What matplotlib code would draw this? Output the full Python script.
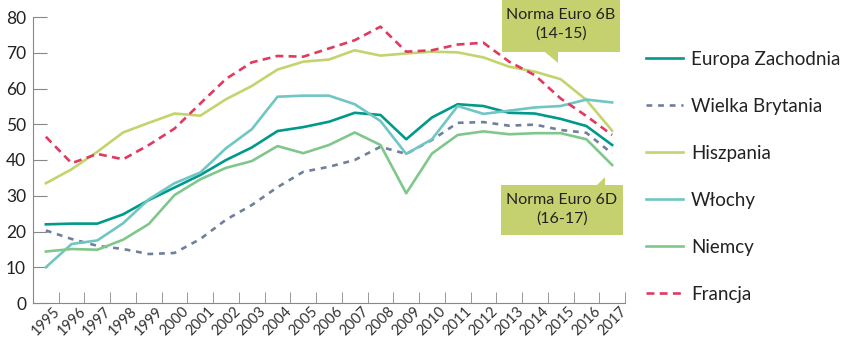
import numpy as np
import matplotlib
matplotlib.use("Agg")
import matplotlib.pyplot as plt
from matplotlib.patches import Polygon

plt.rcParams['font.family'] = ['Lato', 'DejaVu Sans']

years = [str(y) for y in range(1995, 2018)]

europa_zachodnia = [22.0, 22.2, 22.2, 24.8, 28.8, 32.3, 35.8, 40.0, 43.5, 48.1, 49.2,
                    50.7, 53.2, 52.6, 45.8, 51.9, 55.6, 55.1, 53.2, 53.0, 51.5, 49.5, 44.2]
wielka_brytania = [20.3, 17.9, 16.0, 15.1, 13.7, 14.0, 17.9, 23.3, 27.4, 32.4, 36.7,
                   38.1, 40.0, 43.7, 41.7, 45.6, 50.4, 50.6, 49.6, 49.9, 48.4, 47.6, 41.8]
hiszpania = [33.5, 37.4, 42.3, 47.7, 50.4, 53.0, 52.4, 57.0, 60.7, 65.3, 67.5,
             68.1, 70.7, 69.2, 69.8, 70.3, 70.1, 68.7, 66.1, 64.7, 62.6, 56.8, 48.2]
wlochy = [10.0, 16.5, 17.5, 22.3, 29.0, 33.5, 36.5, 43.3, 48.6, 57.7, 58.0,
          58.0, 55.6, 50.9, 41.7, 45.8, 55.1, 52.9, 53.8, 54.7, 55.1, 56.9, 56.1]
niemcy = [14.4, 15.1, 14.9, 17.7, 22.1, 30.2, 34.6, 37.8, 39.7, 43.9, 41.9,
          44.2, 47.7, 44.2, 30.7, 41.8, 47.0, 48.0, 47.2, 47.5, 47.5, 45.8, 38.6]
francja = [46.5, 39.1, 41.7, 40.2, 44.2, 48.8, 55.8, 62.7, 67.3, 69.1, 68.9,
           71.2, 73.5, 77.3, 70.3, 70.7, 72.3, 72.8, 67.5, 63.7, 57.2, 52.3, 47.0]

series = [
    ("Europa Zachodnia", europa_zachodnia, '#00998a', '-'),
    ("Wielka Brytania", wielka_brytania, '#6f7f9c', (0, (2.2, 2.2))),
    ("Hiszpania", hiszpania, '#c4d46c', '-'),
    ("Włochy", wlochy, '#70c6c2', '-'),
    ("Niemcy", niemcy, '#80c78c', '-'),
    ("Francja", francja, '#e03a60', (0, (3, 2))),
]

W, H = 846, 344
fig = plt.figure(figsize=(W / 100, H / 100), dpi=100)
ax = fig.add_axes([33 / W, 1 - 303 / H, (625 - 33) / W, (303 - 17) / H])

x = np.arange(len(years))
for name, vals, color, ls in series:
    ax.plot(x, vals, color=color, linestyle=ls, linewidth=1.9, label=name)

ax.set_xlim(-0.5, len(years) - 0.5)
ax.set_ylim(0, 80)
ax.set_yticks(range(0, 81, 10))
ax.set_xticks(x)
ax.set_xticklabels(years, rotation=45, ha='center', fontsize=10.5, color='#333333')
ax.set_xticks(np.arange(-0.5, len(years)), minor=True)
ax.tick_params(axis='x', which='major', length=0, pad=1)
ax.tick_params(axis='x', which='minor', direction='in', length=8, color='#888888')
ax.tick_params(axis='y', direction='in', length=10, color='#888888',
               labelsize=12.5, labelcolor='#222222', pad=5)
for s in ['top', 'right']:
    ax.spines[s].set_visible(False)
for s in ['left', 'bottom']:
    ax.spines[s].set_color('#888888')

fig.legend(loc='upper left', bbox_to_anchor=(646 / W, 1 - 51 / H), frameon=False,
           fontsize=13.5, handlelength=1.95, handletextpad=0.45, labelspacing=1.6,
           borderaxespad=0, borderpad=0, labelcolor='#222222')

# callouts
box_color = '#c5d16f'
def px(pts):
    return [(a / W, 1 - b / H) for a, b in pts]

fig.patches.append(Polygon(px([(502, 0), (620, 0), (620, 52), (558, 52), (558, 63),
                               (545, 52), (502, 52)]),
                           closed=True, facecolor=box_color, edgecolor='none',
                           transform=fig.transFigure))
fig.text(561 / W, 1 - 15 / H, "Norma Euro 6B", ha='center', va='center', fontsize=11.5, color='#222222')
fig.text(561 / W, 1 - 34 / H, "(14-15)", ha='center', va='center', fontsize=11.5, color='#222222')

fig.patches.append(Polygon(px([(501, 185), (597, 185), (605, 177), (605, 185), (623, 185),
                               (623, 235), (501, 235)]),
                           closed=True, facecolor=box_color, edgecolor='none',
                           transform=fig.transFigure))
fig.text(562 / W, 1 - 200 / H, "Norma Euro 6D", ha='center', va='center', fontsize=11.5, color='#222222')
fig.text(562 / W, 1 - 219 / H, "(16-17)", ha='center', va='center', fontsize=11.5, color='#222222')

fig.savefig("out.png", dpi=100)
